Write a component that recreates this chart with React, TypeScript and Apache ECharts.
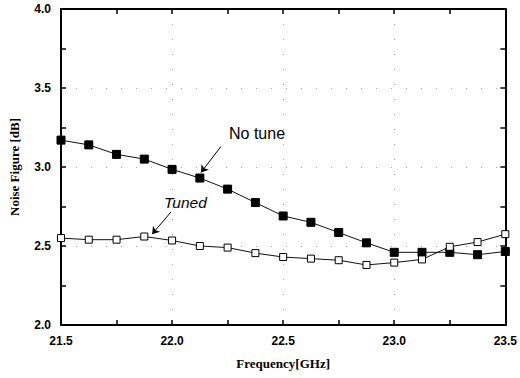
import React, { useEffect, useRef } from "react";
import * as echarts from "echarts";

const freq = [21.5, 21.625, 21.75, 21.875, 22.0, 22.125, 22.25, 22.375, 22.5, 22.625, 22.75, 22.875, 23.0, 23.125, 23.25, 23.375, 23.5];
const noTune = [3.17, 3.14, 3.08, 3.05, 2.985, 2.93, 2.86, 2.775, 2.69, 2.65, 2.585, 2.52, 2.46, 2.46, 2.46, 2.445, 2.465];
const tuned = [2.55, 2.54, 2.54, 2.56, 2.535, 2.5, 2.49, 2.455, 2.43, 2.42, 2.41, 2.38, 2.395, 2.415, 2.495, 2.525, 2.575];
const xTicks = { min: 21.5, max: 23.5, step: 0.5 };
const yTicks = { min: 2.0, max: 4.0, step: 0.5 };
const noTuneArrow = [[22.22, 3.13], [22.13, 2.965]];
const tunedArrow = [[21.995, 2.715], [21.91, 2.575]];

export default function App() {
  const ref = useRef<HTMLDivElement>(null);
  useEffect(() => {
    if (!ref.current) return;
    const chart = echarts.init(ref.current, null, { renderer: "svg" });
    const axisLine = { show: true, onZero: false, lineStyle: { color: "#000", width: 2 } };
    const tick = { show: true, inside: true, length: 5, lineStyle: { color: "#000", width: 1.5 } };
    const minor = { show: true, splitNumber: 2, length: 5, lineStyle: { color: "#000", width: 1.5 } };
    const grid = { show: true, lineStyle: { color: "#aaa", width: 1, type: [1, 14] } };
    const labelStyle = {
      color: "#000",
      fontFamily: "Liberation Sans",
      fontWeight: "bold" as const,
      fontSize: 12,
      formatter: (v: number) => v.toFixed(1),
    };
    const arrowLine = (pts: number[][]) => ({
      silent: true,
      symbol: ["none", "arrow"],
      symbolSize: 7,
      label: { show: false },
      lineStyle: { color: "#000", width: 1, type: "solid" },
      emphasis: { disabled: true },
      data: [[{ coord: pts[0] }, { coord: pts[1] }]],
    });
    chart.setOption({
      animation: false,
      backgroundColor: "#fff",
      grid: { left: 60, right: 12, top: 9, bottom: 53, containLabel: false },
      xAxis: [
        {
          type: "value",
          min: xTicks.min,
          max: xTicks.max,
          interval: xTicks.step,
          axisLine,
          axisTick: tick,
          minorTick: minor,
          splitLine: grid,
          axisLabel: { ...labelStyle, margin: 10 },
          name: "Frequency[GHz]",
          nameLocation: "middle",
          nameGap: 32,
          nameTextStyle: { fontFamily: "Liberation Serif", fontWeight: "bold", fontSize: 13, color: "#000" },
        },
        {
          type: "value",
          position: "top",
          min: xTicks.min,
          max: xTicks.max,
          interval: xTicks.step,
          axisLine,
          axisTick: tick,
          minorTick: minor,
          splitLine: { show: false },
          axisLabel: { show: false },
        },
      ],
      yAxis: [
        {
          type: "value",
          min: yTicks.min,
          max: yTicks.max,
          interval: yTicks.step,
          axisLine,
          axisTick: tick,
          minorTick: minor,
          splitLine: grid,
          axisLabel: { ...labelStyle, margin: 10 },
          name: "Noise Figure [dB]",
          nameLocation: "middle",
          nameGap: 40,
          nameTextStyle: { fontFamily: "Liberation Serif", fontWeight: "bold", fontSize: 13, color: "#000" },
        },
        {
          type: "value",
          position: "right",
          min: yTicks.min,
          max: yTicks.max,
          interval: yTicks.step,
          axisLine,
          axisTick: tick,
          minorTick: minor,
          splitLine: { show: false },
          axisLabel: { show: false },
        },
      ],
      series: [
        {
          name: "No tune",
          type: "line",
          data: freq.map((f, i) => [f, noTune[i]]),
          symbol: "rect",
          symbolSize: 8,
          itemStyle: { color: "#000", borderColor: "#000", borderWidth: 1 },
          lineStyle: { color: "#111", width: 1 },
          markLine: arrowLine(noTuneArrow),
        },
        {
          name: "Tuned",
          type: "line",
          data: freq.map((f, i) => [f, tuned[i]]),
          symbol: "rect",
          symbolSize: 7,
          itemStyle: { color: "#fff", borderColor: "#000", borderWidth: 1 },
          lineStyle: { color: "#111", width: 1 },
          markLine: arrowLine(tunedArrow),
        },
      ],
      graphic: [
        {
          type: "text",
          left: 229,
          top: 125,
          style: { text: "No tune", fontFamily: "Liberation Sans", fontSize: 16, fill: "#000" },
        },
        {
          type: "text",
          left: 164,
          top: 194,
          style: { text: "Tuned", fontFamily: "Liberation Sans", fontStyle: "italic", fontSize: 15.5, fill: "#000" },
        },
      ],
    });
    return () => chart.dispose();
  }, []);
  return (
    <div
      ref={ref}
      style={{ position: "fixed", left: 0, top: 0, width: 520, height: 378, background: "#fff" }}
    />
  );
}
